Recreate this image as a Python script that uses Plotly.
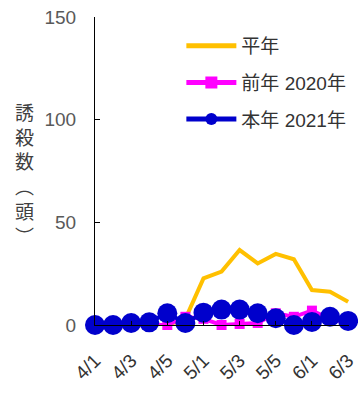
import plotly.graph_objects as go

categories = ["4/1", "4/2", "4/3", "4/4", "4/5", "4/6",
              "5/1", "5/2", "5/3", "5/4", "5/5", "5/6",
              "6/1", "6/2", "6/3"]
heinen = [0, 0, 0, 0, 0, 3, 22.7, 26, 36.5, 30, 34.6, 32, 17, 16.2, 11.3]
zennen_2020 = [0, 0, 0, 0, 0, 4, 3, 0, 0.5, 1, 5.7, 4, 7, 3, 1]
honnen_2021 = [0, 0, 1, 1.3, 5.7, 1, 6, 7.5, 7.5, 5.7, 3.3, 0, 1.5, 4, 2]
names = ["平年", "前年 2020年", "本年 2021年"]
ytick_vals = [0, 50, 100, 150]
ylabel_chars = ["誘", "殺", "数", "︵", "頭", "︶"]

FONT = "Liberation Sans, Arial, Noto Sans CJK JP"

fig = go.Figure()
fig.add_trace(go.Scatter(
    x=categories, y=heinen, name=names[0], mode="lines",
    line=dict(color="#FFC000", width=4), cliponaxis=False,
    legendgroup="a"))
fig.add_trace(go.Scatter(
    x=categories, y=zennen_2020, name=names[1], mode="lines+markers",
    line=dict(color="#FF00FF", width=4),
    marker=dict(symbol="square", size=10, color="#FF00FF"),
    cliponaxis=False, legendgroup="b"))
fig.add_trace(go.Scatter(
    x=categories, y=honnen_2021, name=names[2], mode="lines+markers",
    line=dict(color="#0000CC", width=4),
    marker=dict(symbol="circle", size=20, color="#0000CC"),
    cliponaxis=False, legendgroup="c"))

fig.update_layout(
    width=358, height=401,
    margin=dict(l=95, r=0, t=17, b=76),
    paper_bgcolor="white", plot_bgcolor="white",
    font=dict(family=FONT, size=19, color="#404040"),
    showlegend=True,
    legend=dict(
        x=0.34, y=0.968, xanchor="left", yanchor="top",
        bgcolor="rgba(0,0,0,0)", font=dict(size=19, color="#333333"),
        tracegroupgap=9, itemwidth=50, itemsizing="constant",
    ),
)
fig.update_xaxes(
    type="category", range=[0, 14.05],
    tickmode="array", tickvals=categories[::2],
    tickangle=-45, ticks="inside", ticklen=4, tickcolor="black",
    showline=True, linecolor="black", linewidth=1,
    showgrid=False, zeroline=False,
    tickfont=dict(size=19, color="#333333"),
    ticklabelstandoff=16,
)
fig.update_yaxes(
    range=[0, 150], tickvals=ytick_vals,
    ticks="inside", ticklen=5, tickcolor="black",
    showline=True, linecolor="black", linewidth=1,
    showgrid=False, zeroline=False,
    tickfont=dict(size=19, color="#595959"),
    ticklabelstandoff=14,
)

# vertical stacked axis title (one character per line)
fig.add_annotation(
    text="<br>".join(ylabel_chars), xref="paper", yref="paper",
    x=(22.5 - 95) / 263, y=(325 - 173) / 308,
    xanchor="center", yanchor="middle", showarrow=False,
    font=dict(size=19, color="#404040", family="Noto Sans CJK JP"),
)
fig.write_html("out.html")
